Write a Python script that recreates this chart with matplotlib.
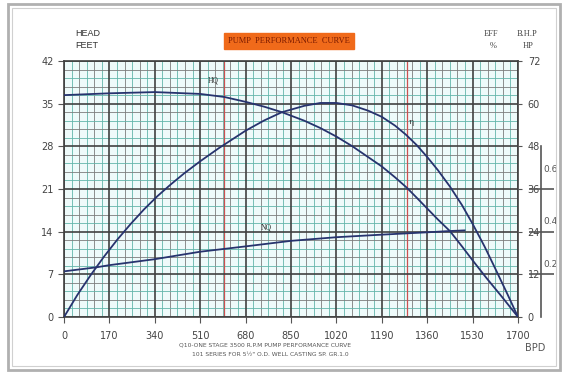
import matplotlib
matplotlib.use('Agg')
import matplotlib.pyplot as plt
from matplotlib.patches import Rectangle

# ---- data ----
flow_ticks = [0, 170, 340, 510, 680, 850, 1020, 1190, 1360, 1530, 1700]
head_ticks = [0, 7, 14, 21, 28, 35, 42]
eff_ticks = [0, 12, 24, 36, 48, 60, 72]
hp_ticks = [0.2, 0.4, 0.6]

flow_hq = [0, 170, 340, 510, 600, 680, 750, 816, 900, 960, 1020, 1080, 1140, 1190, 1240,
           1284, 1320, 1360, 1400, 1445, 1490, 1530, 1580, 1640, 1700]
head_hq = [36.4, 36.7, 36.9, 36.6, 36.1, 35.3, 34.5, 33.6, 32.2, 31.0, 29.6, 28.0, 26.2, 24.7, 22.9,
           21.2, 19.6, 17.8, 16.0, 14.1, 11.6, 9.3, 6.5, 3.3, 0]

flow_eff = [0, 50, 100, 150, 200, 250, 300, 350, 400, 450, 510, 580, 680, 750, 816, 900, 960,
            1020, 1080, 1140, 1190, 1240, 1280, 1320, 1360, 1400, 1445, 1490, 1530, 1575, 1615, 1660, 1700]
eff_pct = [0, 6.2, 11.8, 17.0, 21.8, 26.2, 30.3, 34.0, 37.3, 40.4, 43.8, 47.5, 52.4, 55.3, 57.6, 59.4, 60.2,
           60.2, 59.5, 58.0, 56.3, 53.8, 51.3, 48.4, 45.0, 41.3, 36.7, 31.5, 26.2, 19.8, 13.6, 6.5, 0]

flow_nq = [0, 122, 170, 340, 510, 680, 850, 1020, 1190, 1360, 1445, 1500]
bhp = [0.214, 0.233, 0.243, 0.271, 0.306, 0.331, 0.357, 0.374, 0.386, 0.397, 0.403, 0.406]

red_lines = [600, 1285]

W, H = 569, 373
fig = plt.figure(figsize=(W / 100, H / 100), dpi=100)
fig.patch.set_facecolor('white')

# outer frame
fig.add_artist(Rectangle((8 / W, 1 - 370 / H), 552 / W, 366 / H, transform=fig.transFigure,
                         fill=False, edgecolor='#b0b0b0', lw=2.0))
fig.add_artist(Rectangle((12 / W, 1 - 366 / H), 544 / W, 358 / H, transform=fig.transFigure,
                         fill=False, edgecolor='#d0d0d0', lw=0.8))

L, R, T, B = 64, 518, 61, 317
ax = fig.add_axes([L / W, 1 - B / H, (R - L) / W, (B - T) / H])
ax.set_facecolor('#eefafa')
ax.set_xlim(0, 1700)
ax.set_ylim(0, 42)

# grid
teal, gray = '#63b5aa', '#7c7c7c'
for i in range(len(flow_ticks) - 1):
    a, b = flow_ticks[i], flow_ticks[i + 1]
    step = (b - a) / 6
    for k in range(1, 6):
        c = teal if k % 2 == 1 else gray
        ax.axvline(a + k * step, color=c, lw=0.6, zorder=1)
for i in range(len(head_ticks) - 1):
    a, b = head_ticks[i], head_ticks[i + 1]
    step = (b - a) / 5
    for k in range(1, 5):
        c = teal if k % 2 == 1 else gray
        ax.axhline(a + k * step, color=c, lw=0.6, zorder=1)
for v in red_lines:
    ax.axvline(v, color='#cc5050', lw=0.9, zorder=1.5)
for v in flow_ticks:
    ax.axvline(v, color='#404040', lw=1.2, zorder=2)
for v in head_ticks:
    ax.axhline(v, color='#404040', lw=1.2, zorder=2)

ax.set_xticks(flow_ticks)
ax.set_yticks(head_ticks)
ax.tick_params(axis='both', labelsize=7, length=4, width=0.8, color='#555555', labelcolor='#444444')
ax.tick_params(axis='x', pad=6)
for s in ax.spines.values():
    s.set_color('#404040')
    s.set_linewidth(1.2)

line_c = '#27336e'
ax.plot(flow_hq, head_hq, color=line_c, lw=1.3, zorder=5)

ax_eff = ax.twinx()
ax_eff.set_ylim(0, 72)
ax_eff.set_yticks(eff_ticks)
ax_eff.tick_params(axis='y', labelsize=7, length=3, width=0.8, color='#555555', labelcolor='#444444', pad=4)
ax_eff.plot(flow_eff, eff_pct, color=line_c, lw=1.3, zorder=5)
for s in ax_eff.spines.values():
    s.set_visible(False)

ax_hp = ax.twinx()
ax_hp.set_ylim(0, 1.2)
ax_hp.spines['right'].set_position(('axes', 1.0507))
ax_hp.spines['right'].set_bounds(0, 0.8)
ax_hp.spines['right'].set_color('#555555')
ax_hp.spines['right'].set_linewidth(1.2)
for k in ['left', 'top', 'bottom']:
    ax_hp.spines[k].set_visible(False)
ax_hp.set_yticks(hp_ticks)
ax_hp.set_yticklabels([])
ax_hp.tick_params(axis='y', direction='inout', length=18, width=1.2, color='#555555')
ax_hp.plot(flow_nq, bhp, color=line_c, lw=1.3, zorder=5)
for v, dy in zip(hp_ticks, [0.045, 0.05, 0.09]):
    ax_hp.text(1.056, v + dy, f'{v:.1f}', transform=ax_hp.get_yaxis_transform(), fontsize=6.5,
               color='#555555', va='center', ha='left')

# curve labels
ax.text(540, 38.4, 'HQ', fontsize=5.5, family='Liberation Serif', color='#333333', zorder=6)
ax.text(1290, 31.6, 'η', fontsize=6, family='DejaVu Serif', color='#333333', zorder=6)
ax.text(735, 14.4, 'NQ', fontsize=5.5, family='Liberation Serif', color='#333333', zorder=6)

# header texts
fig.text(75 / W, 1 - 33 / H, 'HEAD', fontsize=6.5, color='#333333', family='Liberation Sans', va='center')
fig.text(75 / W, 1 - 45 / H, 'FEET', fontsize=6.5, color='#333333', family='Liberation Sans', va='center')
fig.text(289 / W, 1 - 41 / H, 'PUMP  PERFORMANCE  CURVE', fontsize=6, color='#7a1a00',
         family='Liberation Serif', ha='center', va='center',
         bbox=dict(boxstyle='square,pad=0.45', facecolor='#f06a1a', edgecolor='#f06a1a'))
fig.text(491 / W, 1 - 34 / H, 'EFF', fontsize=6, color='#444444', family='Liberation Serif', ha='center', va='center')
fig.text(493 / W, 1 - 46 / H, '%', fontsize=6, color='#444444', family='Liberation Serif', ha='center', va='center')
fig.text(527 / W, 1 - 34 / H, 'B.H.P', fontsize=6, color='#444444', family='Liberation Serif', ha='center', va='center')
fig.text(528 / W, 1 - 46 / H, 'HP', fontsize=6, color='#444444', family='Liberation Serif', ha='center', va='center')

fig.text(265 / W, 1 - 345 / H, 'Q10-ONE STAGE 3500 R.P.M PUMP PERFORMANCE CURVE', fontsize=4.3,
         color='#555555', ha='center', va='center')
fig.text(270 / W, 1 - 355 / H, '101 SERIES FOR 5½" O.D. WELL CASTING SP. GR.1.0', fontsize=4.3,
         color='#555555', ha='center', va='center')
fig.text(535 / W, 1 - 348 / H, 'BPD', fontsize=7, color='#555555', ha='center', va='center')

fig.savefig('out.png', dpi=100)
